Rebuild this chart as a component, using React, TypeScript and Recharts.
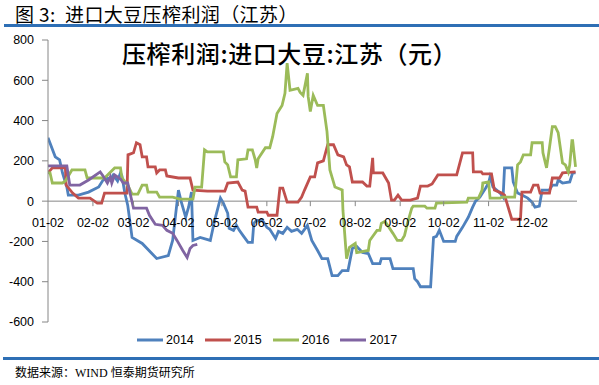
import React from 'react';
import { LineChart, Line, XAxis, YAxis, ReferenceLine, Legend } from 'recharts';

// ---------- data ----------
const MONTH_TICK_DAYS = [0, 31, 59, 90, 120, 151, 181, 212, 243, 273, 304, 334];
const MONTH_TICK_LABELS = ['01-02', '02-02', '03-02', '04-02', '05-02', '06-02', '07-02', '08-02', '09-02', '10-02', '11-02', '12-02'];
const Y_TICKS = [-600, -400, -200, 0, 200, 400, 600, 800];

const SERIES_NAMES = ['2014', '2015', '2016', '2017'];
const SERIES_COLORS = ['#4F81BD', '#C0504D', '#9BBB59', '#8064A2'];

// [day since 01-02, profit]
const S2014: [number, number][] = [
  [0, 315], [5, 220], [8, 205], [10, 140], [13, 70], [14, 30], [21, 30], [28, 45], [35, 70], [38, 105], [41, 115], [43, 105], [45, 130], [48, 100], [50, 140], [51, 125], [53, 40], [55, -20], [58, -180], [65, -210], [75, -285], [83, -270], [86, -195], [90, 55], [92, -5], [95, -80], [97, -30], [99, 45], [100, -195], [105, -180], [112, -195], [115, -95], [119, 15], [121, -10], [124, -60], [125, -135], [128, -145], [130, -120], [132, -145], [135, -175], [138, -205], [141, -205], [142, -110], [144, -95], [148, -95], [151, -130], [153, -140], [157, -185], [159, -150], [162, -160], [165, -130], [168, -150], [172, -140], [175, -160], [179, -120], [182, -195], [186, -245], [189, -285], [193, -285], [196, -370], [200, -370], [203, -345], [207, -345], [210, -235], [213, -225], [217, -255], [221, -260], [224, -310], [229, -310], [230, -285], [236, -285], [238, -335], [252, -335], [253, -385], [255, -400], [257, -425], [264, -425], [266, -180], [268, -175], [270, -145], [273, -200], [281, -200], [282, -175], [286, -130], [290, -80], [293, -30], [295, 0], [298, 20], [302, 65], [304, 90], [305, 120], [307, 70], [312, 40], [314, 20], [315, 165], [320, 165], [321, 95], [324, 40], [327, 30], [331, 15], [334, -5], [336, -30], [339, -25], [341, 55], [346, 55], [348, 80], [351, 80], [352, 105], [355, 90], [360, 95], [362, 140], [364, 140],
];

const S2015: [number, number][] = [
  [0, 140], [3, 165], [12, 165], [12.5, 80], [17, 40], [21, 15], [29, 15], [34, -10], [37, -10], [39, 40], [54.5, 40], [55.2, 230], [59, 240], [61, 290], [63.5, 280], [65, 220], [68, 220], [69, 170], [74, 170], [75, 140], [77, 155], [81, 155], [82, 125], [90, 115], [98, 115], [100, 55], [110, 50], [122, 50], [124, 90], [131, 95], [134, 55], [136, 50], [138, -30], [144, -30], [145, -55], [151, -55], [152, -70], [158, -70], [160, 65], [162, 65], [165, -5], [172.5, -5], [175, 20], [177, 55], [181, 120], [184, 120], [186, 190], [190, 200], [193, 280], [197, 280], [200, 230], [204, 220], [206, 180], [208, 170], [210, 95], [217, 95], [220, 75], [222, 75], [224, 215], [224.5, 140], [231, 140], [235, 90], [237, 5], [239, 5], [241.5, 30], [244, 5], [250, 5], [255, 15], [257, 75], [262, 75], [265, 85], [269, 130], [282, 130], [286, 240], [293, 240], [293.5, 145], [299, 145], [300, 135], [306, 135], [308, 55], [313, 40], [315, 30], [320, -90], [326, -90], [327, 45], [333, 45], [335, 80], [338, 80], [339.5, 40], [346, 40], [348, 115], [353, 115], [355, 140], [364, 145],
];

const S2016: [number, number][] = [
  [0, 140], [1.4, 140], [3, 90], [10, 90], [12, 100], [16.5, 155], [25.5, 155], [27, 115], [39, 115], [46, 165], [50, 165], [51, 115], [55, 80], [58, 35], [62, 35], [65, 80], [68, 80], [69, 45], [75, 45], [77, 20], [86, 20], [91, 10], [100, 10], [101.5, 70], [106, 70], [108, 255], [110, 245], [121, 245], [122, 195], [124, 180], [126, 120], [130, 120], [131, 205], [137, 210], [138, 255], [141, 255], [143, 205], [144, 165], [145, 210], [150, 265], [153, 265], [155, 320], [158, 435], [161.5, 475], [163.5, 535], [165, 685], [167, 550], [172.5, 560], [174, 540], [176, 525], [179, 635], [179.5, 520], [181, 445], [183, 525], [186, 475], [190, 475], [192.5, 345], [194.5, 155], [198, 70], [203, 55], [203.5, -45], [206, -285], [208, -230], [212, -210], [213, -255], [221, -245], [222, -195], [227, -145], [229, -145], [230, -110], [232.5, -100], [238, -160], [241, -195], [244, -195], [246, -170], [248, -110], [251, -35], [252, -25], [260, -25], [261.5, -35], [267, -35], [268, -10], [289, -5], [290, 15], [297, 15], [299.5, 55], [300, 90], [304, 95], [305, 15], [312, 15], [313, 20], [322, 20], [324, 180], [326, 195], [328, 230], [333, 230], [334, 290], [341, 290], [341.5, 240], [344, 165], [346, 265], [348, 370], [350, 370], [352, 340], [355, 190], [357, 180], [359, 145], [360, 180], [361.5, 300], [362, 300], [364, 170],
];

const S2017: [number, number][] = [
  [0, 175], [13, 175], [15, 80], [22, 80], [28, 105], [36, 145], [38, 125], [41, 90], [43, 120], [44, 90], [46, 130], [50, 110], [52, 90], [55, 90], [59, -35], [68, -35], [70, -70], [74, -115], [79, -120], [82, -145], [86, -160], [89, -195], [93, -245], [96, -280], [98, -235], [100, -220], [103, -215],
];

const ALL_SERIES = [S2014, S2015, S2016, S2017];

// ---------- layout ----------
const W = 599;
const H = 385;
const TOP = 40;
const Y_MIN = -600;
const Y_MAX = 800;
const PLOT_BOTTOM = 322;
const PLOT_H = PLOT_BOTTOM - TOP;
const ZERO_Y = TOP + (PLOT_H * (Y_MAX - 0)) / (Y_MAX - Y_MIN);
const AXIS_GRAY = '#868686';
const FONT = "'Liberation Sans', Arial, sans-serif";
const CJK = "'Noto Sans CJK SC', sans-serif";

const toRows = (pts: [number, number][]) => pts.map(([d, v]) => ({ d, v }));

function XTick(props: any) {
  const { x, payload } = props;
  const idx = MONTH_TICK_DAYS.indexOf(payload.value);
  return (
    <g>
      {idx > 0 && <line x1={x} x2={x} y1={ZERO_Y} y2={ZERO_Y + 5} stroke={AXIS_GRAY} strokeWidth={1} />}
      <text x={x} y={ZERO_Y + 26} textAnchor="middle" fontSize={12.5} fontFamily={FONT} fill="#000">
        {MONTH_TICK_LABELS[idx]}
      </text>
    </g>
  );
}

function LegendContent() {
  return (
    <div style={{ display: 'flex', alignItems: 'center', height: 16 }}>
      {SERIES_NAMES.map((n, i) => (
        <div key={n} style={{ display: 'flex', alignItems: 'center', marginRight: 11 }}>
          <svg width={26} height={6} style={{ marginRight: 3 }}>
            <line x1={0} x2={26} y1={3} y2={3} stroke={SERIES_COLORS[i]} strokeWidth={3} />
          </svg>
          <span style={{ fontSize: 12.5, fontFamily: FONT, color: '#000', lineHeight: '16px' }}>{n}</span>
        </div>
      ))}
    </div>
  );
}

export default function App() {
  return (
    <div style={{ position: 'absolute', left: 0, top: 0, width: W, height: H, background: '#fff', overflow: 'hidden' }}>
      <div style={{ position: 'absolute', left: 15, top: 0, fontSize: 19, fontFamily: CJK, color: '#000', lineHeight: 'normal', whiteSpace: 'nowrap', letterSpacing: 0.4 }}>
        图 3:&nbsp;&nbsp;进口大豆压榨利润（江苏）
      </div>
      <div style={{ position: 'absolute', left: 4, top: 24, width: W - 4, height: 3, background: '#2E6FB5' }} />

      <LineChart width={W} height={H} margin={{ top: TOP, right: 22, left: 0, bottom: H - PLOT_BOTTOM - 20 }}>
        <XAxis
          type="number"
          dataKey="d"
          domain={[0, 365]}
          ticks={MONTH_TICK_DAYS}
          interval={0}
          axisLine={false}
          tickLine={false}
          height={20}
          tick={<XTick />}
          allowDataOverflow
        />
        <YAxis
          type="number"
          domain={[Y_MIN, Y_MAX]}
          ticks={Y_TICKS}
          interval={0}
          width={48}
          tickSize={6}
          tickMargin={8}
          axisLine={{ stroke: AXIS_GRAY }}
          tickLine={{ stroke: AXIS_GRAY }}
          tick={{ fontSize: 12.5, fontFamily: FONT, fill: '#000' }}
        />
        <ReferenceLine y={0} stroke={AXIS_GRAY} strokeWidth={1} />
        {ALL_SERIES.map((s, i) => (
          <Line
            key={SERIES_NAMES[i]}
            data={toRows(s)}
            dataKey="v"
            name={SERIES_NAMES[i]}
            stroke={SERIES_COLORS[i]}
            strokeWidth={2.8}
            dot={false}
            activeDot={false}
            type="linear"
            isAnimationActive={false}
          />
        ))}
        <Legend
          verticalAlign="middle"
          layout="horizontal"
          content={<LegendContent />}
          wrapperStyle={{ position: 'absolute', top: 332, left: 137, width: 300 }}
        />
      </LineChart>

      <div style={{ position: 'absolute', left: 122, top: 37, fontSize: 24, fontFamily: CJK, fontWeight: 500, color: '#000', lineHeight: '32px', whiteSpace: 'nowrap', letterSpacing: 0.6 }}>
        压榨利润:进口大豆:江苏（元）
      </div>

      <div style={{ position: 'absolute', left: 3, top: 357, width: W - 3, height: 3, background: '#2E6FB5' }} />
      <div style={{ position: 'absolute', left: 15, top: 364, fontSize: 12, fontFamily: "'Liberation Serif', 'Noto Sans CJK SC', serif", color: '#000', lineHeight: '18px', whiteSpace: 'nowrap' }}>
        数据来源：WIND 恒泰期货研究所
      </div>
    </div>
  );
}
